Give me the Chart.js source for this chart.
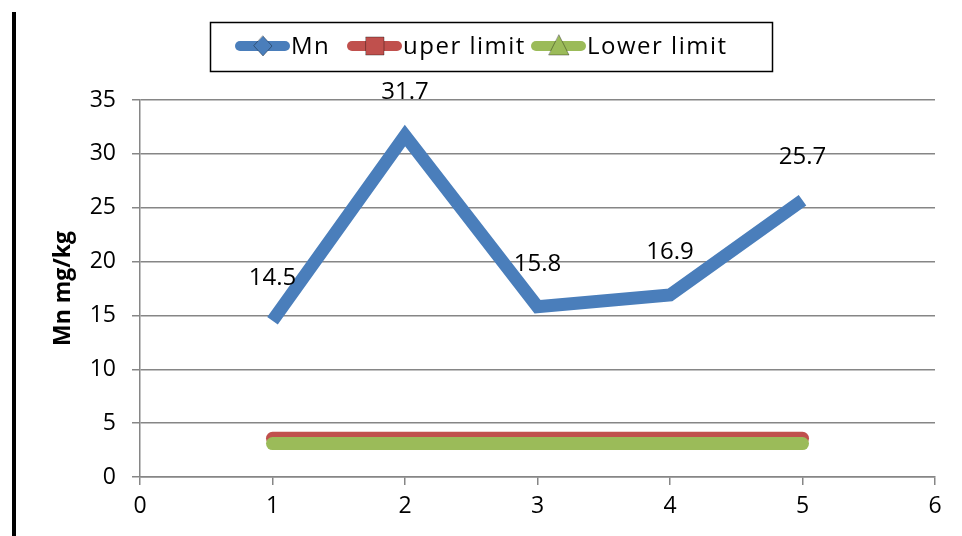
<!DOCTYPE html>
<html>
<head>
<meta charset="utf-8">
<script src="https://cdn.jsdelivr.net/npm/chart.js@4"></script>
<style>
  html, body { margin: 0; padding: 0; background: #fff; }
  #wrap { position: relative; width: 962px; height: 536px; }
  #bar { position: absolute; left: 12px; top: 12px; width: 4px; height: 524px; background: #000; }
</style>
</head>
<body>
<div id="wrap">
  <div id="bar"></div>
  <canvas id="line_graph" width="962" height="536"></canvas>
</div>
<script>
// values
var samples = [1, 2, 3, 4, 5];
var mn_values = [14.5, 31.7, 15.8, 16.9, 25.7];
var upper_limit = [3.6, 3.6, 3.6, 3.6, 3.6];
var lower_limit = [3.1, 3.1, 3.1, 3.1, 3.1];
var series_names = ["Mn", "uper limit", "Lower limit"];

var FONT = "'Open Sans', 'Liberation Sans', sans-serif";

function toPoints(vals) {
  return samples.map(function(s, i) { return {x: s, y: vals[i]}; });
}

// labels above the Mn points
var valueLabels = {
  id: 'valueLabels',
  afterDatasetsDraw: function(chart) {
    var ctx = chart.ctx;
    var meta = chart.getDatasetMeta(0);
    ctx.save();
    ctx.font = "24px " + FONT;
    ctx.fillStyle = "#000";
    ctx.textAlign = "center";
    ctx.textBaseline = "middle";
    meta.data.forEach(function(pt, i) {
      ctx.fillText(mn_values[i].toFixed(1), pt.x, pt.y - 43);
    });
    ctx.restore();
  }
};

// excel style legend: thick line with a marker in the middle
var boxLegend = {
  id: 'boxLegend',
  afterDraw: function(chart) {
    var ctx = chart.ctx;
    ctx.save();
    ctx.strokeStyle = "#000";
    ctx.lineWidth = 1.5;
    ctx.strokeRect(210.5, 22.5, 562, 49);
    var items = [
      {x: 235, color: "#4a7ebb", marker: "diamond"},
      {x: 347, color: "#c0504d", marker: "square"},
      {x: 531, color: "#9bbb59", marker: "triangle"}
    ];
    var y = 46;
    ctx.font = "24px " + FONT;
    ctx.letterSpacing = "1.5px";
    ctx.textBaseline = "middle";
    items.forEach(function(it, i) {
      ctx.strokeStyle = it.color;
      ctx.lineWidth = 10;
      ctx.lineCap = "round";
      ctx.beginPath();
      ctx.moveTo(it.x + 5, y);
      ctx.lineTo(it.x + 50, y);
      ctx.stroke();
      var cx = it.x + 28;
      ctx.fillStyle = it.color;
      ctx.strokeStyle = "rgba(0,0,0,0.35)";
      ctx.lineWidth = 1;
      ctx.beginPath();
      if (it.marker == "diamond") {
        ctx.moveTo(cx, y - 10); ctx.lineTo(cx + 9, y); ctx.lineTo(cx, y + 10); ctx.lineTo(cx - 9, y);
      } else if (it.marker == "square") {
        ctx.rect(cx - 9, y - 9, 18, 18);
      } else {
        ctx.moveTo(cx, y - 11); ctx.lineTo(cx + 10, y + 9); ctx.lineTo(cx - 10, y + 9);
      }
      ctx.closePath();
      ctx.fill();
      ctx.stroke();
      ctx.fillStyle = "#000";
      ctx.fillText(series_names[i], it.x + 56, y + 1);
    });
    ctx.restore();
  }
};

var ctx = document.getElementById("line_graph");
var line_graph = new Chart(ctx, {
  type: 'line',
  data: {
    datasets: [
      {
        label: series_names[0],
        data: toPoints(mn_values),
        borderColor: "#4a7ebb",
        borderWidth: 13,
        borderJoinStyle: 'miter',
        pointRadius: 0,
        order: 0,
        fill: false
      },
      {
        label: series_names[1],
        data: toPoints(upper_limit),
        borderColor: "#c0504d",
        borderWidth: 13,
        borderCapStyle: 'round',
        pointRadius: 0,
        order: 2,
        fill: false
      },
      {
        label: series_names[2],
        data: toPoints(lower_limit),
        borderColor: "#9bbb59",
        borderWidth: 13,
        borderCapStyle: 'round',
        pointRadius: 0,
        order: 1,
        fill: false
      }
    ]
  },
  options: {
    responsive: false,
    animation: false,
    layout: { padding: { left: 40, right: 27, top: 100, bottom: 0 } },
    plugins: {
      legend: { display: false },
      tooltip: { enabled: false }
    },
    scales: {
      x: {
        type: 'linear',
        min: 0, max: 6,
        ticks: { stepSize: 1, color: "#000", font: { size: 23, family: FONT }, padding: 8 },
        grid: { drawOnChartArea: false, color: "#868686", lineWidth: 1.5, tickLength: 8 },
        border: { color: "#868686", width: 1.5 },
        afterFit: function(scale) { scale.height = 59; }
      },
      y: {
        min: 0, max: 35,
        ticks: { stepSize: 5, color: "#000", font: { size: 23, family: FONT }, padding: 16 },
        grid: { color: "#868686", lineWidth: 1.5, tickLength: 8 },
        border: { color: "#868686", width: 1.5 },
        title: { display: true, text: "Mn mg/kg", color: "#000", font: { size: 23, weight: 'bold', family: FONT }, padding: { top: 10, bottom: 0 } },
        afterFit: function(scale) { scale.width = 100; }
      }
    }
  },
  plugins: [valueLabels, boxLegend]
});
</script>
</body>
</html>
